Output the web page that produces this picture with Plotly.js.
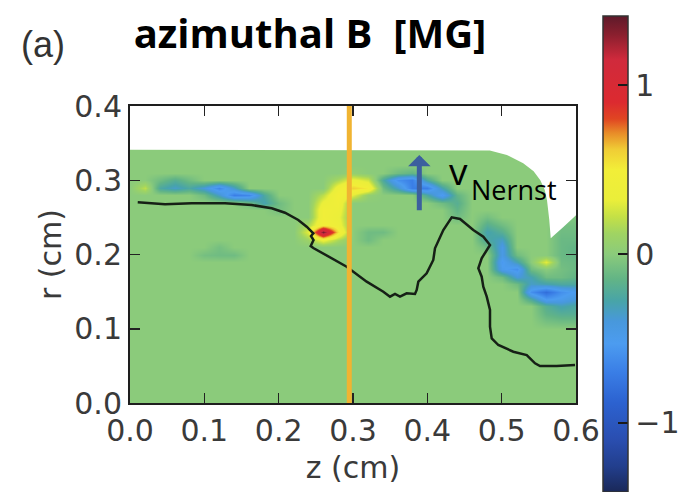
<!DOCTYPE html>
<html><head><meta charset="utf-8">
<script src="https://cdn.plot.ly/plotly-3.0.1.min.js"></script>
<style>html,body{margin:0;padding:0;background:#fff}#chart{width:698px;height:492px}</style>
</head><body><div id="chart"></div>
<script>
// grid of the field (z in cm, r in cm)
const zGrid = [0.00,0.02,0.04,0.06,0.08,0.10,0.12,0.14,0.16,0.18,0.20,0.22,0.24,0.26,0.28,0.30,0.32,0.34,0.36,0.38,0.40,0.42,0.44,0.46,0.48,0.50,0.52,0.54,0.56,0.58,0.60];
const rGrid = [0,0.10,0.12,0.13,0.14,0.15,0.16,0.17,0.18,0.19,0.20,0.21,0.22,0.23,0.24,0.25,0.26,0.27,0.28,0.29,0.30,0.31,0.32,0.34,0.40];
// azimuthal B [MG], one row per rGrid value
const bField = [
[0,0,0,0,0, 0,0,0,0,0, 0,0,0,0,0, 0,0,0,0,0, 0,0,0,0,0, 0,0,0,0,0, 0],
[0,0,0,0,0, 0,0,0,0,0, 0,0,0,0,0, 0,0,0,0,0, 0,0,0,0,0, 0,0,0,0,0, 0],
[0,0,0,0,0, 0,0,0,0,0, 0,0,0,0,0, 0,0,0,0,0, 0,0,0,0,0, 0,0,0,-0.15,-0.2, -0.2],
[0,0,0,0,0, 0,0,0,0,0, 0,0,0,0,0, 0,0,0,0,0, 0,0,0,0,0, 0,0,0,-0.2,-0.3, -0.25],
[0,0,0,0,0, 0,0,0,0,0, 0,0,0,0,0, 0,0,0,0,0, 0,0,0,0,0, 0,0,-0.25,-0.55,-0.5, -0.4],
[0,0,0,0,0, 0,0,0,0,0, 0,0,0,0,0, 0,0,0,0,0, 0,0,0,0,0, 0,0,-0.6,-0.8,-0.6, -0.5],
[0,0,0,0,0, 0,0,0,0,0, 0,0,0,0,0, 0,0,0,0,0, 0,0,0,0,0, 0,-0.1,-0.35,-0.3,-0.25, -0.25],
[0,0,0,0,0, 0,0,0,0,0, 0,0,0,0,0, 0,0,0,0,0, 0,0,0,0,0, -0.1,-0.4,-0.3,-0.1,-0.1, -0.15],
[0,0,0,0,0, 0,0,0,0,0, 0,0,0,0,0, 0,0,0,0,0, 0,0,0,0,0, -0.5,-0.6,-0.1,0,-0.08, -0.12],
[0,0,0,0,0, 0,0,0,0,0, 0,0,0,0,0, 0,0,0,0,0, 0,0,0,0,0, -0.55,-0.3,0,0.3,-0.1, -0.12],
[0,0,0,0,0, -0.08,-0.1,-0.1,0,0, 0,0,0,0,0, 0,0,0,0,0, 0,0,0,0,0, -0.45,-0.1,0,0,-0.12, -0.15],
[0,0,0,0,0, 0,-0.08,0,0,0, 0,0,0,0,0, 0,0,0,0,0, 0,0,0,0,-0.1, -0.45,0,0,0,-0.12, -0.15],
[0,0,0,0,0, 0,0,0,0,0, 0,0,0.1,0.35,0.15, 0,-0.1,0,0,0, 0,0,0,0,-0.25, -0.35,0,0,0,-0.12, -0.12],
[0,0,0,0,0, 0,0,0,0,0, 0,0,0.3,1.35,0.55, 0,-0.1,-0.1,0,0, 0,0,0,0,-0.3, -0.2,0,0,0,-0.1, -0.1],
[0,0,0,0,0, 0,0,0,0,0, 0,0,0.15,0.5,0.4, 0,0,0,0,0, 0,0,0,0,-0.2, -0.1,0,0,0,-0.08, -0.08],
[0,0,0,0,0, 0,0,0,0,0, 0,0,0,0.45,0.35, 0,0,0,0,0, 0,0,-0.1,0,-0.08, 0,0,0,0,0, -0.05],
[0,0,0,0,0, 0,0,0,0,0, -0.08,0,0,0.45,0.4, 0,0,0,0,0, 0,0,-0.15,0,0, 0,0,0,0,0, 0],
[0,0,0,0,0, 0,0,0,-0.1,-0.3, -0.1,0,0,0.35,0.45, 0,0,0,0,0, 0,-0.1,-0.2,0,0, 0,0,0,0,0, 0],
[0,0,0,0,0, -0.1,-0.35,-0.7,-0.65,-0.25, 0,0,0,0.2,0.5, 0.3,0.05,0,0,0, -0.25,-0.55,-0.15,0,0, 0,0,0,0,0, 0],
[0,0.2,-0.25,-0.35,-0.25, -0.4,-0.65,-0.35,0,0, 0,0,0,0,0.4, 0.6,0.5,-0.1,-0.35,-0.7, -0.7,-0.3,0,0,0, 0,0,0,0,0, 0],
[0,0,-0.1,-0.2,-0.1, 0,0,0,0,0, 0,0,0,0,0.15, 0.35,0.25,-0.25,-0.6,-0.7, -0.25,0,0,0,0, 0,0,0,0,0, 0],
[0,0,0,0,0, 0,0,0,0,0, 0,0,0,0,0, 0.05,0,0,-0.1,-0.15, 0,0,0,0,0, 0,0,0,0,0, 0],
[0,0,0,0,0, 0,0,0,0,0, 0,0,0,0,0, 0,0,0,0,0, 0,0,0,0,0, 0,0,0,0,0, 0],
[0,0,0,0,0, 0,0,0,0,0, 0,0,0,0,0, 0,0,0,0,0, 0,0,0,0,0, 0,0,0,0,0, 0],
[0,0,0,0,0, 0,0,0,0,0, 0,0,0,0,0, 0,0,0,0,0, 0,0,0,0,0, 0,0,0,0,0, 0]
];
// outside of the simulated plasma (white)
const outsideZ = [-0.01,0.484,0.507,0.529,0.543,0.552,0.558,0.561,0.564,0.566,0.583,0.610,0.610,-0.01];
const outsideR = [0.341,0.340,0.334,0.323,0.312,0.300,0.287,0.273,0.247,0.222,0.237,0.262,0.410,0.410];
// black boundary line
const lineZ = [0.0104,0.0471,0.0830,0.1278,0.1637,0.1906,0.2085,0.2264,0.2377,0.2422,0.2466,0.2435,0.2469,0.2431,0.2466,0.2915,0.3184,0.3408,0.3498,0.3565,0.3632,0.3722,0.3834,0.3857,0.3879,0.3991,0.4080,0.4103,0.4215,0.4328,0.4440,0.4618,0.4753,0.4843,0.4799,0.4731,0.4686,0.4731,0.4753,0.4799,0.4843,0.4843,0.4866,0.4955,0.5157,0.5337,0.5449,0.5516,0.5740,0.5987];
const lineR = [0.2703,0.2676,0.2690,0.2690,0.2667,0.2622,0.2563,0.2465,0.2374,0.2330,0.2286,0.2249,0.2195,0.2114,0.2088,0.1836,0.1634,0.1499,0.1432,0.1468,0.1432,0.1477,0.1468,0.1522,0.1634,0.1747,0.1926,0.2083,0.2330,0.2501,0.2478,0.2330,0.2240,0.2128,0.2061,0.1949,0.1814,0.1701,0.1566,0.1432,0.1253,0.1028,0.0871,0.0781,0.0691,0.0646,0.0535,0.0498,0.0498,0.0512];
// orange marker line
const cutZ = [0.295,0.295];
const cutR = [0,0.4];
// Nernst arrow (tail, tip)
const arrowZ = [0.3892,0.3892];
const arrowR = [0.2577,0.334];
const xTickVals = [0,0.1,0.2,0.3,0.4,0.5,0.6];
const xTickLabels = ['0.0','0.1','0.2','0.3','0.4','0.5','0.6'];
const yTickVals = [0,0.1,0.2,0.3,0.4];
const yTickLabels = ['0.0','0.1','0.2','0.3','0.4'];
const cbTickVals = [-1,0,1];
const cbTickLabels = ['\u22121','0','1'];

const jet = [
[0,'#1a2858'],[0.053,'#223e8c'],[0.11,'#2a4eb0'],[0.188,'#2c62d0'],[0.252,'#3a7ee6'],
[0.312,'#4c9cf0'],[0.358,'#4898dc'],[0.401,'#48a4a8'],[0.447,'#62b486'],[0.5,'#8bcb7b'],
[0.543,'#a0d462'],[0.578,'#c4e046'],[0.613,'#eaee3a'],[0.677,'#f2ee38'],[0.72,'#f0cc35'],
[0.755,'#e88a28'],[0.784,'#e04522'],[0.819,'#dc2a30'],[0.908,'#d02a3c'],[0.961,'#8a1f2e'],[1,'#5e1a2a']];

const tickFont = {family:'DejaVu Sans', size:30, color:'#3a3a3a'};

const traces = [
 {type:'heatmap', x:zGrid, y:rGrid, z:bField, zmin:-1.41, zmax:1.41, zsmooth:'best',
  colorscale:jet, hoverinfo:'skip',
  colorbar:{thickness:25, thicknessmode:'pixels', len:476, lenmode:'pixels',
   x:(603-130)/446, xref:'paper', xanchor:'left', y:(403-16)/297, yref:'paper', yanchor:'top',
   xpad:0, ypad:0, outlinewidth:1.5, outlinecolor:'#333',
   tickmode:'array', tickvals:cbTickVals, ticktext:cbTickLabels, ticks:'inside', ticklen:10, tickwidth:1.5,
   tickcolor:'#1a1a1a', tickfont:tickFont}},
 {type:'scatter', mode:'lines', x:outsideZ, y:outsideR, fill:'toself', fillcolor:'#ffffff',
  line:{width:0, color:'rgba(0,0,0,0)'}, hoverinfo:'skip', showlegend:false},
 {type:'scatter', mode:'lines', x:lineZ, y:lineR, line:{color:'#162016', width:2.5}, hoverinfo:'skip', showlegend:false},
 {type:'scatter', mode:'lines', x:cutZ, y:cutR, line:{color:'#f0b432', width:5}, hoverinfo:'skip', showlegend:false}
];

const layout = {
 width:698, height:492,
 margin:{l:130, r:122, t:106, b:89, autoexpand:false},
 paper_bgcolor:'#ffffff', plot_bgcolor:'#ffffff',
 showlegend:false,
 title:{text:'azimuthal B\u00a0 [MG]', font:{family:'Open Sans', size:40, color:'#000', weight:'bold'},
  x:310/698, xref:'container', xanchor:'center', y:1-33.7/492, yref:'container', yanchor:'middle'},
 xaxis:{range:[0,0.6], tickmode:'array', tickvals:xTickVals, ticktext:xTickLabels, ticks:'inside', ticklen:10, tickwidth:1.5,
  tickcolor:'#222', showline:true, linecolor:'#1e1e1e', linewidth:2, mirror:'ticks', showgrid:false, zeroline:false,
  tickfont:tickFont, automargin:false,
  title:{text:'z (cm)', font:tickFont, standoff:10}},
 yaxis:{range:[0,0.4], tickmode:'array', tickvals:yTickVals, ticktext:yTickLabels, ticks:'inside', ticklen:10, tickwidth:1.5,
  tickcolor:'#222', showline:true, linecolor:'#1e1e1e', linewidth:2, mirror:'ticks', showgrid:false, zeroline:false,
  tickfont:tickFont, automargin:false,
  title:{text:'r (cm)', font:tickFont, standoff:4}},
 annotations:[
  {x:arrowZ[1], y:arrowR[1], ax:arrowZ[0], ay:arrowR[0], xref:'x', yref:'y', axref:'x', ayref:'y',
   text:'', showarrow:true, arrowhead:1, arrowsize:0.75, arrowwidth:5, arrowcolor:'#3c5f9e', standoff:0},
  {x:0.4260, y:0.3130, xref:'x', yref:'y', xanchor:'left', yanchor:'middle', text:'v', showarrow:false,
   font:{family:'Open Sans', size:37, color:'#000'}},
  {x:0.4556, y:0.2875, xref:'x', yref:'y', xanchor:'left', yanchor:'middle', text:'Nernst', showarrow:false,
   font:{family:'Open Sans', size:27, color:'#000'}},
  {x:(19-130)/446, y:(403-45)/297, xref:'paper', yref:'paper', xanchor:'left', yanchor:'middle', text:'(a)', showarrow:false,
   font:{family:'Liberation Sans', size:36, color:'#333'}}
 ]
};

Plotly.newPlot('chart', traces, layout, {displayModeBar:false, staticPlot:true});
</script>
</body></html>
